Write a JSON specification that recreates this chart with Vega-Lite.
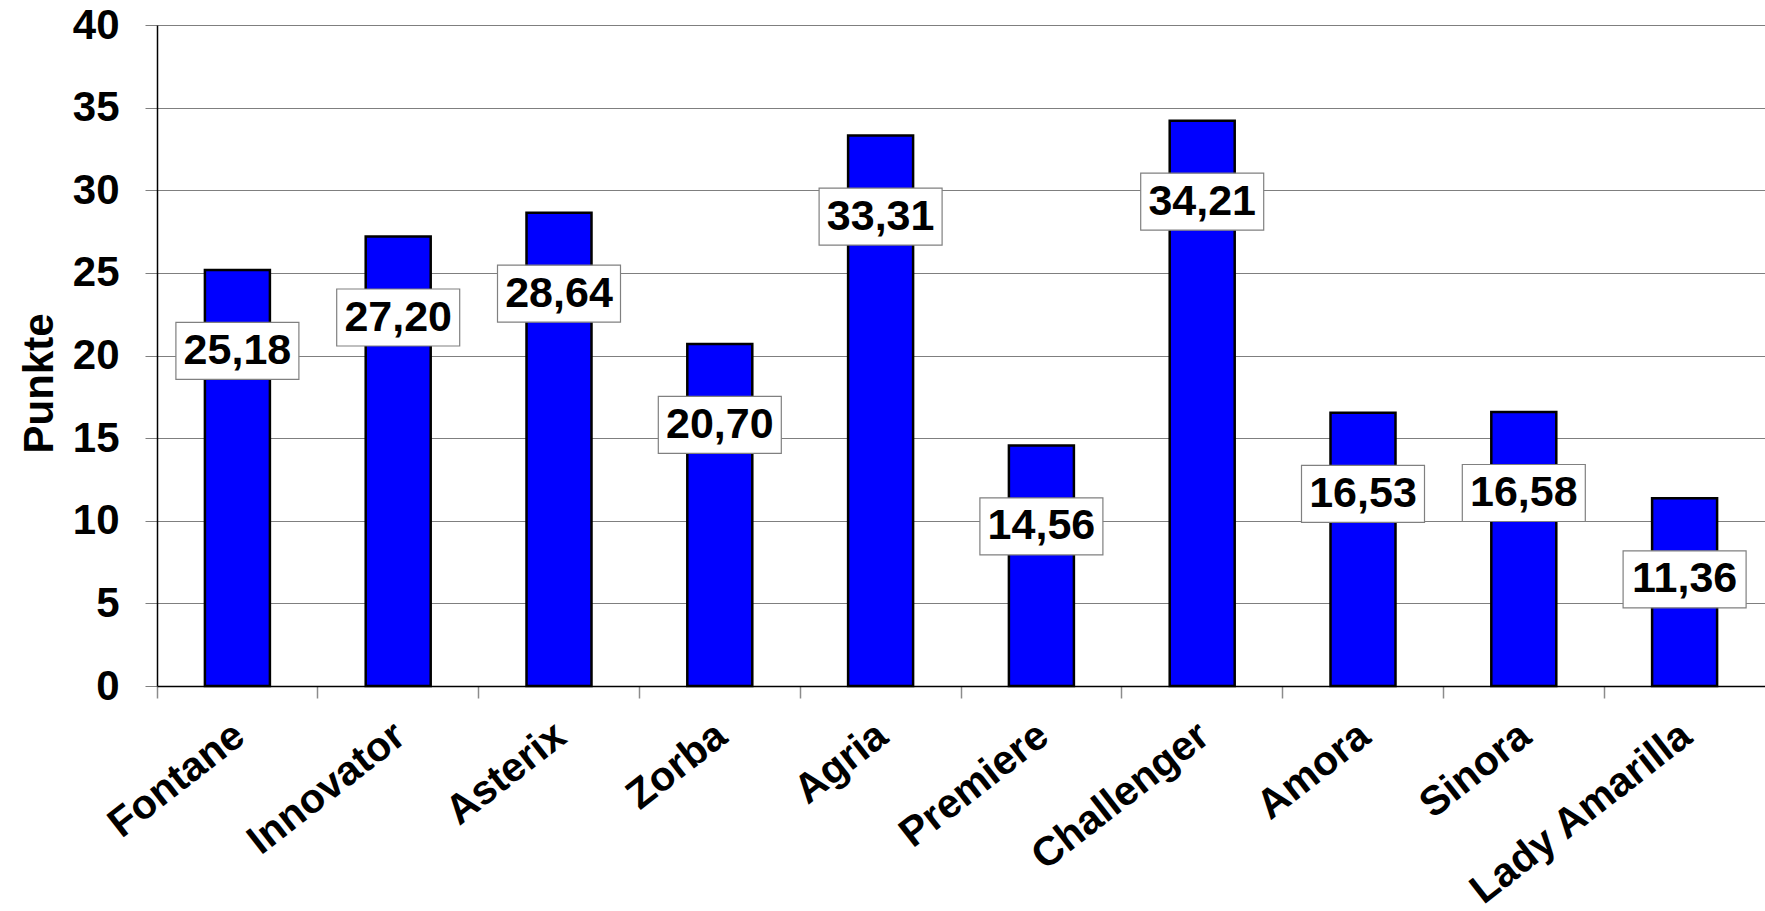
{
  "$schema": "https://vega.github.io/schema/vega-lite/v6.json",
  "autosize": {"type": "none"},
  "padding": {"left": 157, "top": 25, "right": 0, "bottom": 225},
  "width": 1608,
  "height": 661,
  "data": {
    "values": [
      {"sorte": "Fontane", "punkte": 25.18},
      {"sorte": "Innovator", "punkte": 27.20},
      {"sorte": "Asterix", "punkte": 28.64},
      {"sorte": "Zorba", "punkte": 20.70},
      {"sorte": "Agria", "punkte": 33.31},
      {"sorte": "Premiere", "punkte": 14.56},
      {"sorte": "Challenger", "punkte": 34.21},
      {"sorte": "Amora", "punkte": 16.53},
      {"sorte": "Sinora", "punkte": 16.58},
      {"sorte": "Lady Amarilla", "punkte": 11.36}
    ]
  },
  "encoding": {
    "x": {
      "field": "sorte",
      "type": "nominal",
      "sort": null,
      "scale": {"paddingInner": 0, "paddingOuter": 0},
      "axis": {
        "title": null,
        "bandPosition": 0,
        "labelAngle": -38,
        "labelAlign": "right",
        "labelBaseline": "top",
        "labelPadding": 17,
        "labelOffset": -10,
        "labelLimit": 0,
        "labelFontSize": 41,
        "labelFontWeight": "bold",
        "labelFont": "Liberation Sans",
        "labelColor": "black",
        "domainColor": "black",
        "domainWidth": 1.5,
        "tickColor": "#8c8c8c",
        "tickWidth": 1.5,
        "tickSize": 12,
        "grid": false
      }
    },
    "y": {
      "field": "punkte",
      "type": "quantitative",
      "scale": {"domain": [0, 40], "nice": false},
      "axis": {
        "title": "Punkte",
        "titleFont": "Liberation Sans",
        "titleFontSize": 42,
        "titleFontWeight": "bold",
        "titleColor": "black",
        "titleAngle": -90,
        "titleAlign": "center",
        "titleBaseline": "alphabetic",
        "titleX": -105,
        "titleY": 358,
        "values": [0, 5, 10, 15, 20, 25, 30, 35, 40],
        "labelFont": "Liberation Sans",
        "labelFontSize": 42,
        "labelFontWeight": "bold",
        "labelColor": "black",
        "labelPadding": 26,
        "labelBaseline": "middle",
        "domainColor": "black",
        "domainWidth": 1.5,
        "tickColor": "#7f7f7f",
        "tickSize": 12,
        "gridColor": "#7f7f7f",
        "gridWidth": 1,
        "gridOpacity": 1
      }
    }
  },
  "layer": [
    {
      "mark": {
        "type": "bar",
        "width": 65,
        "fill": "#0000ff",
        "stroke": "black",
        "strokeWidth": 2.5
      }
    },
    {
      "mark": {
        "type": "point",
        "shape": "M-1,-0.4634H1V0.4634H-1Z",
        "size": 15129,
        "filled": true,
        "fill": "white",
        "stroke": "#808080",
        "strokeWidth": 1.2,
        "opacity": 1,
        "yOffset": 81
      }
    },
    {
      "mark": {
        "type": "text",
        "font": "Liberation Sans",
        "fontSize": 43,
        "fontWeight": "bold",
        "color": "black",
        "align": "center",
        "baseline": "middle",
        "yOffset": 81
      },
      "encoding": {
        "text": {"field": "punkte", "type": "quantitative", "format": ".2f"}
      }
    }
  ],
  "config": {
    "view": {"stroke": null},
    "locale": {
      "number": {
        "decimal": ",",
        "thousands": ".",
        "grouping": [3],
        "currency": ["", " €"]
      }
    }
  }
}
